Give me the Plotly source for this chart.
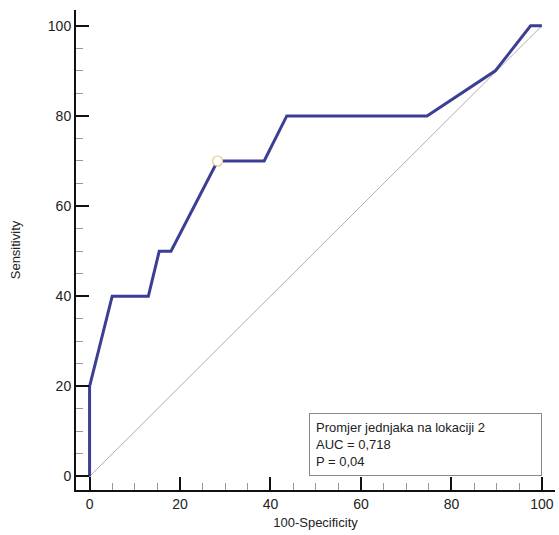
import plotly.graph_objects as go

# ROC curve points (100-Specificity, Sensitivity)
fpr = [0, 0, 5, 13, 15.4, 18, 28.3, 38.6, 43.6, 74.6, 89.7, 97.5, 100]
tpr = [0, 20, 40, 40, 50, 50, 70, 70, 80, 80, 90, 100, 100]
# optimal criterion point
opt_x = [28.3]
opt_y = [70]
# reference diagonal
diag_x = [0, 100]
diag_y = [0, 100]
tick_vals = [0, 20, 40, 60, 80, 100]
legend_lines = ["Promjer jednjaka na lokaciji 2", "AUC = 0,718", "P = 0,04"]

FONT = "Liberation Sans, Arial, sans-serif"

fig = go.Figure()
fig.add_trace(go.Scatter(x=diag_x, y=diag_y, mode="lines",
                         line=dict(color="#b9aaa8", width=1), hoverinfo="skip"))
fig.add_trace(go.Scatter(x=fpr, y=tpr, mode="lines",
                         line=dict(color="#3b3f94", width=3)))
fig.add_trace(go.Scatter(x=opt_x, y=opt_y, mode="markers",
                         marker=dict(size=10, color="white",
                                     line=dict(color="#e8c98a", width=1.2))))

axis_common = dict(
    tickvals=tick_vals, ticks="inside", ticklen=13,
    tickwidth=2, tickcolor="#111", showline=True, linecolor="#111", linewidth=2,
    showgrid=False, zeroline=False, mirror=False,
    tickfont=dict(family=FONT, size=14, color="#222"),
    minor=dict(dtick=5, ticks="inside", ticklen=7, tickcolor="#999", tickwidth=1),
)

fig.update_layout(
    width=559, height=535,
    margin=dict(l=76, r=4, t=10, b=45),
    paper_bgcolor="white", plot_bgcolor="white",
    showlegend=False,
    xaxis=dict(**axis_common, range=[-3, 102.9],
               title=dict(text="100-Specificity", font=dict(family=FONT, size=13, color="#222"),
                          standoff=7)),
    yaxis=dict(**axis_common, range=[-3, 103.5],
               title=dict(text="Sensitivity", font=dict(family=FONT, size=13, color="#222"),
                          standoff=24)),
    annotations=[dict(
        xref="x", yref="y", x=100, y=0, xanchor="right", yanchor="bottom",
        text="<br>".join(legend_lines), align="left", showarrow=False,
        width=219, height=49, borderpad=6, bordercolor="#888", borderwidth=1,
        bgcolor="white", font=dict(family=FONT, size=13, color="#222"),
    )],
)

fig.write_html("out.html")
